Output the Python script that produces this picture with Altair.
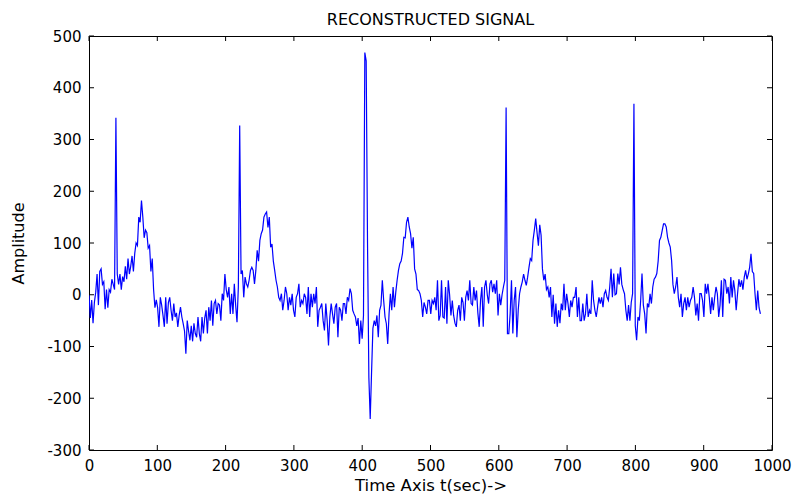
import altair as alt
import pandas as pd

# Amplitude, one value every SAMPLE_STEP on the time axis
seg_000 = [0, -45, -10, -55, -15, 5, 40, -20, 45, 50,
           20, 25, -28, 10, -25, 10, 5, 30, 20, 10,
           342, 40, 20, 40, 10, 35, 25, 55, 30, 70,
           40, 55, 75, 45, 80, 100, 95, 150, 140, 182,
           150, 110, 125, 120, 90, 95, 45, 70, 10, -25]
seg_100 = [-10, -25, -62, -5, -20, -40, -62, -5, -56, -15,
           -5, -30, -50, -17, -43, -35, -62, -40, -24, -43,
           -56, -70, -114, -50, -70, -88, -60, -90, -55, -75,
           -82, -43, -75, -90, -43, -75, -45, -30, -75, -24,
           -50, -11, -60, -17, -11, -37, -17, -20, -50, 2]
seg_200 = [-11, 40, 10, -5, 15, -37, 2, -37, 21, -20,
           -53, 15, 327, 40, 47, -5, 34, 21, 15, 28,
           47, 53, 47, 21, 47, 86, 65, 105, 118, 125,
           150, 156, 160, 130, 150, 92, 98, 65, 47, 28,
           15, -5, -11, 2, -30, -11, 15, 2, -30, -5]
seg_300 = [-20, 2, -30, -43, -5, 2, 21, -24, -11, -17,
           2, -5, -37, 15, -43, 2, -24, 2, -17, 15,
           -62, -30, -24, -17, -50, -69, -17, -50, -98, -43,
           -17, -37, -56, -24, -17, -82, -24, -30, -50, -17,
           -17, -37, -5, -11, 12, 2, -30, -37, -43, -60]
seg_400 = [-45, -95, -50, -85, -40, 468, 452, 100, -160, -240,
           -150, -65, -50, -60, -40, -82, -30, -20, 28, -11,
           -43, -56, -95, -37, 2, -30, 15, -24, 5, 28,
           47, 60, 65, 80, 111, 110, 140, 150, 131, 118,
           90, 111, 50, 40, 10, 8, 2, -11, -43, -15]
seg_500 = [-24, -37, -11, -11, -37, -11, -17, -5, -30, 28,
           -50, -40, 28, -43, -45, 15, -56, 28, 0, -40,
           -11, -40, -55, -62, -30, -20, -50, -5, -15, -50,
           -5, 8, -11, 28, -17, -20, 15, -11, 8, -35,
           -62, -11, 15, -62, 15, 28, 0, -17, 21, 28]
seg_600 = [5, 21, 2, 28, -40, 2, -20, 0, 15, 28,
           362, -75, -75, -37, 28, -75, -11, 15, -82, -30,
           2, 15, 25, 40, 28, 18, 34, 53, 70, 66,
           105, 125, 147, 120, 95, 135, 115, 50, 28, 40,
           10, 15, -5, 15, -43, 0, -56, -17, -62, -30]
seg_700 = [-55, -17, -30, 21, -30, 2, -17, -43, -11, -24,
           -5, -5, 15, -43, -5, -50, -50, -17, -50, -37,
           2, -43, -30, -37, 28, -11, -30, -43, -24, -5,
           -17, -5, -24, 2, 8, -5, -11, 15, 50, -5,
           41, 0, 2, 41, 20, 53, 20, 10, 2, -30]
seg_800 = [-50, -20, -50, -15, 2, 369, -60, -88, -43, -50,
           -11, 41, -20, -37, -75, -17, -24, 2, -17, 15,
           30, 34, 41, 65, 105, 111, 124, 137, 137, 131,
           111, 100, 92, 66, 20, 2, 15, 34, -5, -24,
           2, -43, -17, -5, -30, -5, -24, -11, -5, 15]
seg_900 = [-5, -40, -17, -50, 2, 2, -11, -43, 21, 2,
           21, -5, -37, -5, -30, -5, 15, 2, -43, -20,
           28, -43, 30, 28, 2, 15, -17, 34, -5, 28,
           8, -30, 2, 30, 15, 28, 10, 34, 47, 30,
           40, 53, 79, 45, 41, 2, -30, 8, -25, -37]

SAMPLE_STEP = 1.97
x_ticks = [0, 100, 200, 300, 400, 500, 600, 700, 800, 900, 1000]
y_ticks = [-300, -200, -100, 0, 100, 200, 300, 400, 500]

amplitude = (seg_000 + seg_100 + seg_200 + seg_300 + seg_400 +
             seg_500 + seg_600 + seg_700 + seg_800 + seg_900)
df = pd.DataFrame({"t": [i * SAMPLE_STEP for i in range(len(amplitude))],
                   "amp": amplitude})
xt = pd.DataFrame({"t": x_ticks})
yt = pd.DataFrame({"amp": y_ticks})

W, H = 683, 414
FONT = "DejaVu Sans"
TL = 5

xscale = alt.Scale(domain=[0, 1000], nice=False, zero=False)
yscale = alt.Scale(domain=[-300, 500], nice=False, zero=False)

xaxis = alt.Axis(values=x_ticks, title="Time Axis t(sec)->", ticks=False, tickSize=0,
                 domain=False, grid=False, labelFont=FONT, labelFontSize=15,
                 labelColor="black", labelPadding=8, titleFont=FONT,
                 titleFontSize=16.5, titleFontWeight="normal", titleColor="black",
                 titlePadding=4, labelFlush=False, labelExpr="toString(datum.value)")
yaxis = alt.Axis(values=y_ticks, title="Amplitude", ticks=False, tickSize=0,
                 domain=False, grid=False, labelFont=FONT, labelFontSize=15,
                 labelColor="black", labelPadding=8, titleFont=FONT,
                 titleFontSize=16, titleFontWeight="normal", titleColor="black",
                 titlePadding=20, labelFlush=False, labelExpr="toString(datum.value)")

line = alt.Chart(df).mark_line(color="#0000FF", strokeWidth=1.2, clip=True).encode(
    x=alt.X("t:Q", scale=xscale, axis=xaxis),
    y=alt.Y("amp:Q", scale=yscale, axis=yaxis),
)

bottom = alt.Chart(xt).mark_rule(color="black", strokeWidth=1).encode(
    x=alt.X("t:Q", scale=xscale, axis=xaxis), y=alt.value(H), y2=alt.value(H - TL))
top = alt.Chart(xt).mark_rule(color="black", strokeWidth=1).encode(
    x=alt.X("t:Q", scale=xscale, axis=xaxis), y=alt.value(0), y2=alt.value(TL))
left = alt.Chart(yt).mark_rule(color="black", strokeWidth=1).encode(
    y=alt.Y("amp:Q", scale=yscale, axis=yaxis), x=alt.value(0), x2=alt.value(TL))
right = alt.Chart(yt).mark_rule(color="black", strokeWidth=1).encode(
    y=alt.Y("amp:Q", scale=yscale, axis=yaxis), x=alt.value(W), x2=alt.value(W - TL))

chart = alt.layer(line, bottom, top, left, right).properties(
    width=W, height=H,
    title=alt.TitleParams("RECONSTRUCTED SIGNAL", font=FONT, fontSize=16,
                          fontWeight="normal", color="black", offset=1),
    autosize=alt.AutoSizeParams(type="none"),
    padding={"left": 89, "top": 36, "right": 26, "bottom": 48},
    background="white",
).configure_view(stroke="black", strokeWidth=1)

chart.save("out.html", embed_options={"renderer": "svg", "actions": False})
